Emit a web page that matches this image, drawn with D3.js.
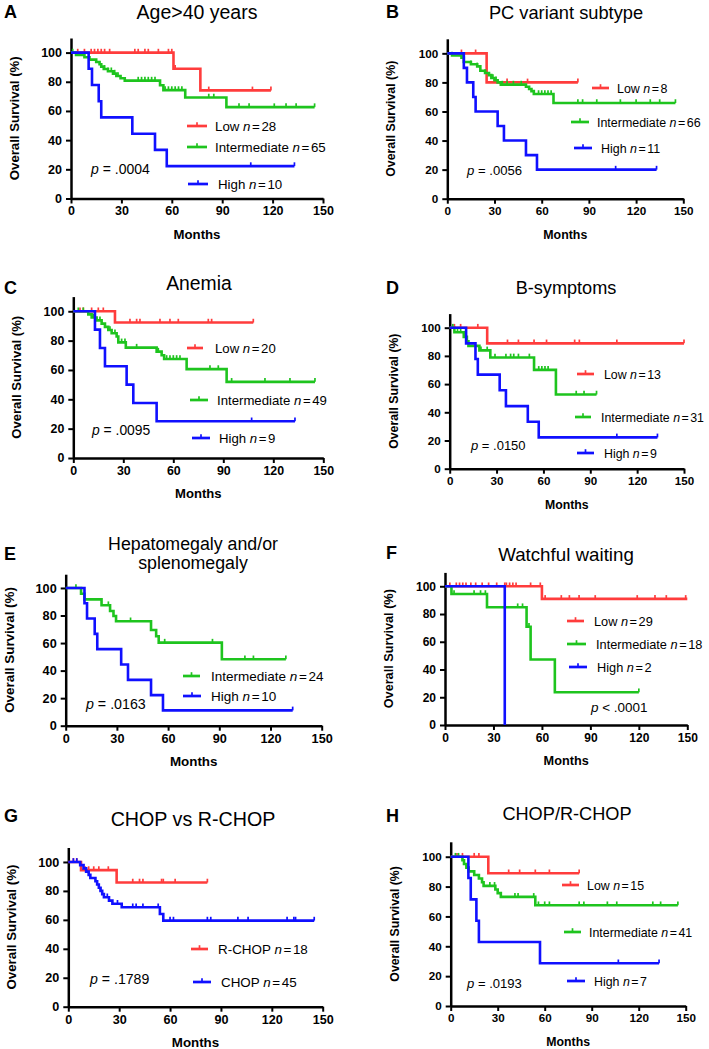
<!DOCTYPE html>
<html><head><meta charset="utf-8">
<script src="https://cdn.jsdelivr.net/npm/d3@7/dist/d3.min.js"></script>
<style>body{margin:0;background:#fff} svg{display:block} text{font-family:"Liberation Sans",Arial,sans-serif}</style>
</head><body>
<svg id="c" width="709" height="1049"></svg>
<script>
const xTicks=[0,30,60,90,120,150];
const yTicks=[0,20,40,60,80,100];

// ---- Panel A: Age>40 years ----
const A_low=[[0,100],[61,88.9],[77,74.1],[119,74.1]];
const A_low_c=[4,8,12,14,16,18,20,23,38,40,44,46,52,58,60,62,82,108,119];
const A_int=[[0,100],[3,98.4],[8,96.8],[11,95.2],[15,93.6],[17,92],[18,90.4],[19.5,88.8],[22,87.2],[25,85.6],[27,84],[29.5,82.4],[32,80.8],[53,77.6],[55,74.3],[68,69.2],[92.5,62.6],[145,62.6]];
const A_int_c=[1,20,22,24,26,28,40,42,44,46,48,50,56,58,60,62,64,66,82,85,100,106,121,128,134,145];
const A_high=[[0,100],[10.5,88.9],[12.5,77.8],[16.5,66.7],[18,55.6],[36.5,44.4],[50,33.3],[57,22.2],[133,22.2]];
const A_high_c=[107,133];

// ---- Panel B: PC variant subtype ----
const B_low=[[0,100],[25,80],[83,80]];
const B_low_c=[9,18,30,38,51,83];
const B_int=[[0,100],[3,98.5],[9,97],[10.5,94],[15,92.5],[19,91],[21,88],[24,86.5],[26.5,85],[28,83],[30,81.5],[32,80],[34,78.5],[50,77],[52,75.5],[53.5,74],[55,72],[67.5,65.8],[145,65.8]];
const B_int_c=[3,10,15,19,24,29,31,35,38,42,47,58,60,62,64,66,83,86,95,110,120,129,135,145];
const B_high=[[0,100],[10.5,90],[12.5,80],[16.5,70],[18,60],[32,50],[36,40],[50,30],[57,20],[133,20]];
const B_high_c=[107,133];

// ---- Panel C: Anemia ----
const C_low=[[0,100],[25,92.3],[108,92.3]];
const C_low_c=[4,6,11,15,18,34,38,40,52,58,63,81,83,108];
const C_int=[[0,100],[9,97.9],[11,95.8],[14,93.8],[17,91.6],[19,89.4],[21,87.2],[23,85],[26,82.8],[27,78.8],[31.5,75.2],[50,72.5],[53,70],[54.5,67.5],[68,60.6],[92,51.9],[145,51.9]];
const C_int_c=[3,6,12,16,22,25,29,31,38,51,56,58,60,62,64,82,87,95,115,130,145];
const C_high=[[0,100],[13,87.5],[16,75],[19,62.5],[32,50],[36,37.5],[50,25],[133,25]];
const C_high_c=[107,133];

// ---- Panel D: B-symptoms ----
const D_low=[[0,100],[24,88.9],[150,88.9]];
const D_low_c=[3,7,18,37,44,54,62,80,83,107,150];
const D_int=[[0,100],[3,96.8],[9,93.5],[11,90.3],[12,87.1],[19,83.9],[26,78.9],[54,70.1],[68,52.6],[94,52.6]];
const D_int_c=[2,5,7,20,24,29,36,39,41,44,51,57,59,61,63,81,86,94];
const D_high=[[0,100],[10.5,88.9],[16.5,77.8],[18,66.7],[32,55.6],[36,44.4],[50,33.3],[57,22.2],[133,22.2]];
const D_high_c=[107,133];

// ---- Panel E: Hepatomegaly and/or splenomegaly ----
const E_int=[[0,100],[9,95.8],[11,91.7],[21,87.5],[26,83.3],[28,79.6],[29.5,75.8],[50,69.5],[53,65],[54.5,60.3],[91.5,48.2],[129,48.2]];
const E_int_c=[6,25,38,58,86,105,110,129];
const E_high=[[0,100],[11,88.9],[12.5,77.8],[17,66.7],[18.5,55.6],[32.5,44.4],[36.5,33.3],[50,22.2],[57,11.1],[133,11.1]];
const E_high_c=[133];

// ---- Panel F: Watchful waiting ----
const F_low=[[0,100],[60,90.9],[150,90.9]];
const F_low_c=[3,7,9,11,13,16,19,23,27,32,37,38,40,42,44,53,59,62,72,77,83,93,119,130,137,149];
const F_int=[[0,100],[4,94.4],[26,84.9],[50.5,70.8],[53,47.2],[68,23.6],[120,23.6]];
const F_int_c=[5.6,18,22,25,45,48,52,120];
const F_high=[[0,100],[37,0],[37,0]];
const F_high_c=[];

// ---- Panel G: CHOP vs R-CHOP ----
const G_rchop=[[0,100],[7.5,94.4],[28.5,85.8],[82,85.8]];
const G_rchop_c=[3,5,10,12,15,18,23.6,38,42,44,55,56,63,82];
const G_chop=[[0,100],[7,97.8],[9,95.6],[10.5,93.3],[12,91.1],[13,88.9],[16,86.7],[17,84.4],[18,82.2],[19,80],[20,77.8],[21,75.6],[24,73.3],[26,71.1],[31.5,68.7],[54,64.1],[56,59.5],[145,59.5]];
const G_chop_c=[3,5,19,23,29,38,40,44,53,60,62,82,84,100,106,129,133,134,145];

// ---- Panel H: CHOP/R-CHOP ----
const H_low=[[0,100],[24,88.9],[82,88.9]];
const H_low_c=[4,7.5,15,18,37,44,54,63,82];
const H_int=[[0,100],[7.5,97.6],[8.5,95.1],[10,92.7],[11.5,90.2],[15,87.8],[18,85.4],[20,82.9],[21,80.5],[28.5,78],[30,75.6],[32,73.1],[54,67.5],[145,67.5]];
const H_int_c=[3,5,25,28,41,43,53,56,60,63,82,85,100,106,129,134,145];
const H_high=[[0,100],[11.3,85.7],[12.8,71.4],[16.4,57.1],[18,42.9],[57,28.6],[133,28.6]];
const H_high_c=[107,133];

const RED="#ff3c3c", GREEN="#1ec41e", BLUE="#1010ff";

const panels=[
 {letter:"A",lx:4,ly:18,title:["Age>40 years"],tx:197,ty:[19],L:71,R:323,B:198.5,T:38,
  p:{pre:"= .0004",x:91,y:174},
  series:[
   {d:A_low,c:A_low_c,col:RED,lab:"Low",n:"28",lg:[187,207,126,215]},
   {d:A_int,c:A_int_c,col:GREEN,lab:"Intermediate",n:"65",lg:[187,207,147,215]},
   {d:A_high,c:A_high_c,col:BLUE,lab:"High",n:"10",lg:[188,208,184,218]}]},
 {letter:"B",lx:386,ly:18,title:["PC variant subtype"],tx:566,ty:[19],L:447.3,R:683.3,B:198.7,T:38.8,
  p:{pre:"= .0056",x:467,y:175},
  series:[
   {d:B_low,c:B_low_c,col:RED,lab:"Low",n:"8",lg:[592,609,88,617]},
   {d:B_int,c:B_int_c,col:GREEN,lab:"Intermediate",n:"66",lg:[571,589,122,597]},
   {d:B_high,c:B_high_c,col:BLUE,lab:"High",n:"11",lg:[574,592,148,601]}]},
 {letter:"C",lx:4,ly:294,title:["Anemia"],tx:199,ty:[290],L:73.3,R:323.3,B:458,T:296.6,
  p:{pre:"= .0095",x:92,y:435},
  series:[
   {d:C_low,c:C_low_c,col:RED,lab:"Low",n:"20",lg:[187,203,348,215]},
   {d:C_int,c:C_int_c,col:GREEN,lab:"Intermediate",n:"49",lg:[190,208,400,217]},
   {d:C_high,c:C_high_c,col:BLUE,lab:"High",n:"9",lg:[192,210,438,219]}]},
 {letter:"D",lx:386,ly:294,title:["B-symptoms"],tx:566,ty:[294],L:449.7,R:684,B:468.7,T:313.6,
  p:{pre:"= .0150",x:471,y:450},
  series:[
   {d:D_low,c:D_low_c,col:RED,lab:"Low",n:"13",lg:[577,594,374,604]},
   {d:D_int,c:D_int_c,col:GREEN,lab:"Intermediate",n:"31",lg:[575,591,417,601]},
   {d:D_high,c:D_high_c,col:BLUE,lab:"High",n:"9",lg:[577,594,453,604]}]},
 {letter:"E",lx:4,ly:560,title:["Hepatomegaly and/or","splenomegaly"],tx:193,ty:[549.5,569],L:65.7,R:321.7,B:725.7,T:574.2,
  p:{pre:"= .0163",x:86,y:709},
  series:[
   {d:E_int,c:E_int_c,col:GREEN,lab:"Intermediate",n:"24",lg:[183,200,676,211]},
   {d:E_high,c:E_high_c,col:BLUE,lab:"High",n:"10",lg:[183,201,696,211]}]},
 {letter:"F",lx:386,ly:559,title:["Watchful waiting"],tx:566,ty:[561],L:445,R:687.3,B:725,T:572.4,
  p:{pre:"< .0001",x:591,y:712},
  series:[
   {d:F_low,c:F_low_c,col:RED,lab:"Low",n:"29",lg:[567,584,621,594]},
   {d:F_int,c:F_int_c,col:GREEN,lab:"Intermediate",n:"18",lg:[567,586,644,596]},
   {d:F_high,c:F_high_c,col:BLUE,lab:"High",n:"2",lg:[569,587,667,597]}]},
 {letter:"G",lx:4,ly:822,title:["CHOP vs R-CHOP"],tx:193,ty:[826],L:68.3,R:322.7,B:1006.7,T:847.5,
  p:{pre:"= .1789",x:90,y:984},
  series:[
   {d:G_rchop,c:G_rchop_c,col:RED,lab:"R-CHOP",n:"18",lg:[191,208,949,218]},
   {d:G_chop,c:G_chop_c,col:BLUE,lab:"CHOP",n:"45",lg:[193,211,982,221]}]},
 {letter:"H",lx:386,ly:822,title:["CHOP/R-CHOP"],tx:567,ty:[820],L:450.7,R:685.7,B:1006,T:841.8,
  p:{pre:"= .0193",x:467,y:988},
  series:[
   {d:H_low,c:H_low_c,col:RED,lab:"Low",n:"15",lg:[562,579,885,587]},
   {d:H_int,c:H_int_c,col:GREEN,lab:"Intermediate",n:"41",lg:[564,581,932,589]},
   {d:H_high,c:H_high_c,col:BLUE,lab:"High",n:"7",lg:[567,585,981,594]}]}
];

const svg=d3.select("#c");
function surv(d,t){let v=d[0][1];for(const p of d){if(p[0]<=t)v=p[1];}return v;}

panels.forEach(P=>{
  const k=(P.R-P.L)/252;
  const g=svg.append("g");
  const x=d3.scaleLinear().domain([0,150]).range([P.L,P.R]);
  const y=d3.scaleLinear().domain([0,110]).range([P.B,P.T]);
  g.append("text").attr("x",P.lx).attr("y",P.ly).attr("font-size",18).attr("font-weight","bold").text(P.letter);
  const tfs=(P.title.length>1?17.5:19.5)*k;
  P.title.forEach((t,i)=>g.append("text").attr("x",P.tx).attr("y",P.ty[i]).attr("text-anchor","middle").attr("font-size",tfs).text(t));
  const xa=g.append("g").attr("transform",`translate(0,${P.B})`)
    .call(d3.axisBottom(x).tickValues(xTicks).tickSize(5).tickSizeOuter(0).tickPadding(3));
  const ya=g.append("g").attr("transform",`translate(${P.L},0)`)
    .call(d3.axisLeft(y).tickValues(yTicks).tickSize(5).tickSizeOuter(0).tickPadding(4));
  [xa,ya].forEach(a=>{
    a.select(".domain").attr("stroke","#000").attr("stroke-width",2.5);
    a.selectAll(".tick line").attr("stroke","#000").attr("stroke-width",2);
    a.selectAll(".tick text").attr("font-size",12.5*k).attr("font-weight","bold").attr("fill","#000")
      .attr("font-family","'Liberation Sans',Arial,sans-serif");
  });
  g.append("text").attr("x",(P.L+P.R)/2).attr("y",P.B+40).attr("text-anchor","middle")
    .attr("font-size",13.2*k).attr("font-weight","bold").text("Months");
  g.append("text").attr("transform",`translate(${P.L-52},${(P.T+P.B)/2}) rotate(-90)`).attr("text-anchor","middle")
    .attr("font-size",13.2*k).attr("font-weight","bold").text("Overall Survival (%)");
  const line=d3.line().x(d=>x(d[0])).y(d=>y(d[1])).curve(d3.curveStepAfter);
  P.series.forEach(s=>{
    g.append("path").attr("d",line(s.d)).attr("fill","none").attr("stroke",s.col).attr("stroke-width",2.6);
    g.selectAll(null).data(s.c).enter().append("line")
      .attr("x1",t=>x(t)).attr("x2",t=>x(t)).attr("y1",t=>y(surv(s.d,t))-3.8).attr("y2",t=>y(surv(s.d,t)))
      .attr("stroke",s.col).attr("stroke-width",1.7);
    const [x1,x2,ly,tx]=s.lg;
    g.append("line").attr("x1",x1).attr("x2",x2).attr("y1",ly).attr("y2",ly).attr("stroke",s.col).attr("stroke-width",2.7);
    g.append("line").attr("x1",(x1+x2)/2).attr("x2",(x1+x2)/2).attr("y1",ly-3.8).attr("y2",ly).attr("stroke",s.col).attr("stroke-width",1.7);
    const t=g.append("text").attr("x",tx).attr("y",ly+5).attr("font-size",13.3*k);
    t.append("tspan").text(s.lab+" ");
    t.append("tspan").attr("font-style","italic").text("n");
    t.append("tspan").attr("dx",1.6*k).text("=");
    t.append("tspan").attr("dx",1.6*k).text(s.n);
  });
  const pt=g.append("text").attr("x",P.p.x).attr("y",P.p.y).attr("font-size",14*k);
  pt.append("tspan").attr("font-style","italic").text("p");
  pt.append("tspan").text(" "+P.p.pre);
});
</script>
</body></html>
